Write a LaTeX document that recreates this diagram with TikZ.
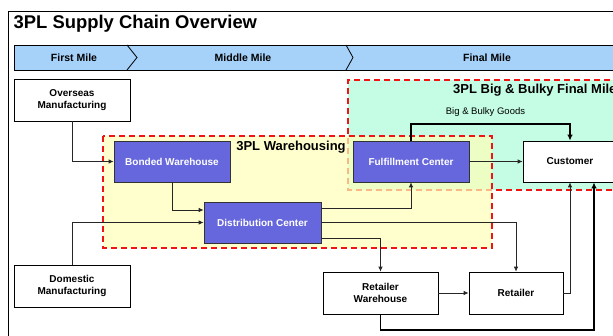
\documentclass[tikz,border=0pt]{standalone}
\usepackage{fontspec}
\setmainfont{Liberation Sans}
\usetikzlibrary{arrows.meta,calc}
\definecolor{bandblue}{RGB}{166,210,250}
\definecolor{boxblue}{RGB}{102,102,221}
\definecolor{mint}{RGB}{196,252,228}
\definecolor{paleyellow}{RGB}{255,255,185}
\definecolor{dashred}{RGB}{240,20,20}
\tikzset{
  plainbox/.style={draw=black, line width=0.7pt, fill=white, minimum height=41pt, align=center, font=\fontsize{10}{11.5}\selectfont\bfseries, inner sep=1pt},
  bluebox/.style={draw=black!80, line width=0.7pt, fill=boxblue, minimum height=41pt, align=center, text=white, font=\fontsize{10}{11.5}\selectfont\bfseries, inner sep=1pt},
  region/.style={draw=dashred, line width=1.4pt, dash pattern=on 6pt off 4pt},
  arr/.style={draw=black!85, line width=0.75pt, -{Latex[length=5pt,width=4.5pt]}},
  thickarr/.style={draw=black, line width=1.8pt, -{Latex[length=6pt,width=5.5pt]}},
  bandlabel/.style={font=\fontsize{10.5}{12}\selectfont\bfseries},
  regionlabel/.style={font=\fontsize{13}{15}\selectfont\bfseries}
}
\begin{document}
\begin{tikzpicture}[x=1pt,y=-1pt]
\useasboundingbox (0,0) rectangle (613,336);
% outer frame
\draw[line width=0.9pt] (8,11) rectangle (640,360);
\node[anchor=west, font=\fontsize{18.4}{20}\selectfont\bfseries, inner sep=0pt] (title) at (13.5,24) {3PL Supply Chain Overview};
% band
\draw[fill=bandblue, line width=0.8pt] (14,45) rectangle (640,70);
\draw[line width=0.8pt] (127,45) -- (137,57.5) -- (127,70);
\draw[line width=0.8pt] (346,45) -- (353,57.5) -- (346,70);
\node[bandlabel] (first) at (74,57.5) {First Mile};
\node[bandlabel] (middle) at (243,57.5) {Middle Mile};
\node[bandlabel] (final) at (487,57.5) {Final Mile};
% regions
\fill[mint] (348,80) rectangle (640,190);
\draw[region] (640,80) -- (348,80) -- (348,190) -- (640,190);
\fill[paleyellow, fill opacity=0.7] (103,136) rectangle (492,248);
\draw[region] (103,136) rectangle (492,248);
\node[regionlabel, anchor=west, inner sep=0pt] (bblabel) at (453,90) {3PL Big \& Bulky Final Mile};
\node[regionlabel] (whlabel) at (291,147) {3PL Warehousing};
% nodes
\node[plainbox, minimum width=116pt, minimum height=42pt] (ov) at (72,100) {Overseas\\Manufacturing};
\node[plainbox, minimum width=116pt, minimum height=42pt] (dom) at (72,286) {Domestic\\Manufacturing};
\node[bluebox, minimum width=116pt] (bw) at (172,161.5) {Bonded Warehouse};
\node[bluebox, minimum width=117pt] (dc) at (262.5,222.5) {Distribution Center};
\node[bluebox, minimum width=116pt] (fc) at (411,161.5) {Fulfillment Center};
\node[plainbox, minimum width=94pt] (cu) at (570,161.5) {Customer};
\node[plainbox, minimum width=115pt, minimum height=42pt] (rw) at (380.5,293) {Retailer\\Warehouse};
\node[plainbox, minimum width=94pt, minimum height=42pt] (rt) at (516,293) {Retailer};
% connectors
\draw[arr] (ov.south) |- (bw.west);
\draw[arr] (bw.south) |- ([yshift=12.5pt]dc.west);
\draw[arr] (dom.north) |- (dc.west);
\draw[arr] ([yshift=14.5pt]dc.east) -| (fc.south);
\draw[arr] (dc.east) -| (rt.north);
\draw[arr] ([yshift=-15.5pt]dc.east) -| (rw.north);
\draw[arr] (fc.east) -- (cu.west);
\draw[arr] (rw.east) -- (rt.west);
\draw[arr] (rt.east) -| (cu.south);
\coordinate (bbtop) at (490,124);
\draw[thickarr] (fc.north) |- (bbtop) -| (cu.north);
\node[font=\fontsize{9.5}{11}\selectfont, inner sep=0pt] (bbgoods) at (485.5,112.5) {Big \& Bulky Goods};
\coordinate (bbot) at (594,330);
\draw[thickarr] (rw.south) |- (bbot) -- ([xshift=24pt]cu.south);
\end{tikzpicture}
\end{document}
